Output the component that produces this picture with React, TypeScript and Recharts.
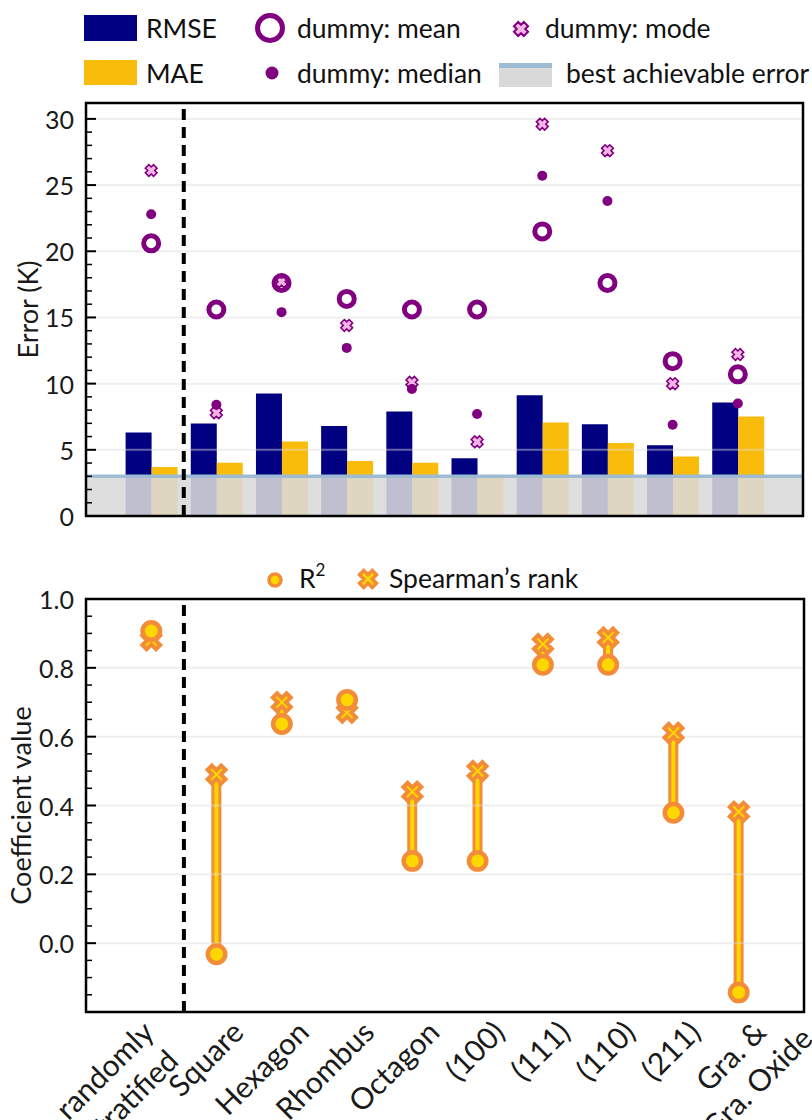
import React from "react";
import {
  ComposedChart,
  Bar,
  Scatter,
  XAxis,
  YAxis,
  ReferenceLine,
  ReferenceArea,
} from "recharts";

const categories = [
  "randomly\nstratified",
  "Square",
  "Hexagon",
  "Rhombus",
  "Octagon",
  "(100)",
  "(111)",
  "(110)",
  "(211)",
  "Gra. &\nGra. Oxide",
];

// top panel, errors in K
const rmse = [6.3, 6.98, 9.25, 6.8, 7.9, 4.36, 9.13, 6.93, 5.34, 8.57];
const mae = [3.7, 4.03, 5.62, 4.16, 4.03, 2.95, 7.06, 5.52, 4.5, 7.51];
const dummyMean = [20.6, 15.6, 17.6, 16.4, 15.6, 15.6, 21.5, 17.6, 11.7, 10.7];
const dummyMedian = [22.8, 8.4, 15.4, 12.7, 9.6, 7.7, 25.7, 23.8, 6.9, 8.5];
const dummyMode = [26.1, 7.8, 17.7, 14.4, 10.1, 5.6, 29.6, 27.6, 10.0, 12.2];
const bestAchievableError = 3.0;

// bottom panel, coefficients
const r2 = [0.907, -0.032, 0.637, 0.707, 0.239, 0.239, 0.809, 0.809, 0.379, -0.143];
const spearman = [0.88, 0.49, 0.7, 0.67, 0.44, 0.5, 0.869, 0.888, 0.611, 0.382];

const errorTicks = [
  0, 1, 2, 3, 4, 5, 6, 7, 8, 9, 10, 11, 12, 13, 14, 15, 16, 17, 18, 19, 20,
  21, 22, 23, 24, 25, 26, 27, 28, 29, 30,
];
const errorLabels = [0, 5, 10, 15, 20, 25, 30];
const coefTicks = [
  -0.15, -0.1, -0.05, 0, 0.05, 0.1, 0.15, 0.2, 0.25, 0.3, 0.35, 0.4, 0.45,
  0.5, 0.55, 0.6, 0.65, 0.7, 0.75, 0.8, 0.85, 0.9, 0.95, 1.0,
];
const coefLabels = [0, 0.2, 0.4, 0.6, 0.8, 1.0];
const splitAt = 0.5; // between "randomly stratified" and the rest

const errorRows = categories.map((name, i) => ({
  name,
  idx: i,
  rmse: rmse[i],
  mae: mae[i],
  mean: dummyMean[i],
  median: dummyMedian[i],
  mode: dummyMode[i],
}));

const coefRows = categories.map((name, i) => ({
  name,
  idx: i,
  r2: r2[i],
  spearman: spearman[i],
  span: [Math.min(r2[i], spearman[i]), Math.max(r2[i], spearman[i])],
}));

const FONT = "Lato, 'Open Sans', sans-serif";
const NAVY = "#000080";
const GOLD = "#f9bc0a";
const PURPLE = "#800080";
const PINK = "#f3b5e3";
const ORANGE = "#f28c38";
const YELLOW = "#ffd700";
const GRID = "#dcdcdc";
const TICK_FS = 25;
const LABEL_FS = 27;
const LEGEND_FS = 26.5;
const XLAB_FS = 30;
const PAD = 32.6;
const TICK_GAP = 12;

const crossPath = (cx: number, cy: number, a: number, w: number) => {
  const pts = [
    [w, a], [w, w], [a, w], [a, -w], [w, -w], [w, -a],
    [-w, -a], [-w, -w], [-a, -w], [-a, w], [-w, w], [-w, a],
  ];
  const c = Math.SQRT1_2;
  return (
    pts
      .map(([px, py], i) => `${i ? "L" : "M"}${cx + (px - py) * c},${cy + (px + py) * c}`)
      .join("") + "Z"
  );
};

const MeanRing = (p: any) => (
  <circle cx={p.cx} cy={p.cy} r={7.5} fill="none" stroke={PURPLE} strokeWidth={5} />
);
const MedianDot = (p: any) => <circle cx={p.cx} cy={p.cy} r={5} fill={PURPLE} />;
const ModeCross = (p: any) => (
  <path d={crossPath(p.cx, p.cy, 5.8, 2.5)} fill={PINK} stroke={PURPLE} strokeWidth={1.6} />
);
const R2Dot = (p: any) => (
  <circle cx={p.cx} cy={p.cy} r={8.7} fill={YELLOW} stroke={ORANGE} strokeWidth={4.5} />
);
const SpearmanCross = (p: any) => (
  <path d={crossPath(p.cx, p.cy, 9.7, 3)} fill={YELLOW} stroke={ORANGE} strokeWidth={4} />
);

function makeYTick(labels: number[], fmt: (v: number) => string) {
  return (props: any) => {
    const { x, y, payload } = props;
    const v = payload.value;
    const major = labels.includes(v);
    const ax = x + TICK_GAP;
    return (
      <g>
        <line
          x1={ax}
          x2={ax + (major ? 10 : 6)}
          y1={y}
          y2={y}
          stroke="#000"
          strokeWidth={major ? 2 : 1.5}
        />
        {major && (
          <text
            x={x}
            y={y}
            textAnchor="end"
            dominantBaseline="central"
            fontSize={TICK_FS}
            fontFamily={FONT}
            fill="#1a1a1a"
          >
            {fmt(v)}
          </text>
        )}
      </g>
    );
  };
}

let ctx: CanvasRenderingContext2D | null = null;
function textWidth(s: string, size: number) {
  if (!ctx) ctx = document.createElement("canvas").getContext("2d");
  if (!ctx) return s.length * size * 0.5;
  ctx.font = `${size}px Lato`;
  return ctx.measureText(s).width;
}

// 45 degree labels: lines centred on each other, the shorter line ends a bit
// right of the tick, and the highest point of the block sits just below the axis
const CategoryTick = (props: any) => {
  const { x, y, payload } = props;
  const lines = String(payload.value).split("\n");
  const lh = XLAB_FS * 1.25;
  const asc = XLAB_FS * 0.72;
  const c = Math.SQRT1_2;
  const widths = lines.map((l) => textWidth(l, XLAB_FS));
  const k = widths.indexOf(Math.min(...widths));
  const tx = x + 29 - c * (widths[k] / 2 + k * lh);
  const top = Math.min(...widths.map((w, i) => c * (i * lh - asc - w / 2)));
  const ty = y + 2 - top;
  return (
    <g transform={`translate(${tx},${ty}) rotate(-45)`}>
      {lines.map((l, i) => (
        <text
          key={i}
          x={0}
          y={i * lh}
          textAnchor="middle"
          fontSize={XLAB_FS}
          fontFamily={FONT}
          fill="#1a1a1a"
        >
          {l}
        </text>
      ))}
    </g>
  );
};

const axisLabel = (value: string, offset: number) => ({
  value,
  angle: -90,
  position: "insideLeft" as const,
  offset,
  style: { textAnchor: "middle", fontSize: LABEL_FS, fontFamily: FONT, fill: "#1a1a1a" },
});

function ErrorChart() {
  return (
    <ComposedChart
      width={812}
      height={530}
      data={errorRows}
      margin={{ top: 103, right: 9, bottom: 14, left: 16 }}
      barGap={0}
    >
      <XAxis dataKey="name" padding={{ left: PAD, right: PAD }} tick={false} axisLine={false} tickLine={false} height={0} />
      <XAxis xAxisId="num" type="number" dataKey="idx" domain={[-1, 10]} hide />
      <YAxis
        type="number"
        domain={[0, 31.2]}
        ticks={errorTicks}
        interval={0}
        width={70}
        tickSize={0}
        tickMargin={TICK_GAP}
        axisLine={false}
        tickLine={false}
        allowDataOverflow
        tick={makeYTick(errorLabels, (v) => String(v))}
        label={axisLabel("Error (K)", 12)}
      />
      <Bar dataKey="rmse" fill={NAVY} barSize={26} isAnimationActive={false} />
      <Bar dataKey="mae" fill={GOLD} barSize={26} isAnimationActive={false} />
      {errorLabels.map((v) => (
        <ReferenceLine key={v} y={v} xAxisId="num" stroke={GRID} strokeOpacity={0.45} strokeWidth={2} />
      ))}
      <ReferenceArea
        xAxisId="num"
        x1={-1}
        x2={10}
        y1={0}
        y2={bestAchievableError}
        fill="#d9d9d9"
        fillOpacity={0.88}
        stroke="none"
        zIndex={350}
      />
      <ReferenceLine xAxisId="num" y={bestAchievableError} stroke="#9dbcd4" strokeWidth={3.5} />
      <ReferenceLine xAxisId="num" x={splitAt} stroke="#000" strokeWidth={4} strokeDasharray="11 7" />
      <Scatter xAxisId="num" dataKey="mode" shape={ModeCross} isAnimationActive={false} />
      <Scatter xAxisId="num" dataKey="median" shape={MedianDot} isAnimationActive={false} />
      <Scatter xAxisId="num" dataKey="mean" shape={MeanRing} isAnimationActive={false} />
      <ReferenceArea
        xAxisId="num"
        x1={-1}
        x2={10}
        y1={0}
        y2={31.2}
        fill="none"
        stroke="#000"
        strokeWidth={2.5}
        zIndex={700}
      />
    </ComposedChart>
  );
}

function CoefChart() {
  return (
    <ComposedChart
      width={812}
      height={580}
      data={coefRows}
      margin={{ top: 59, right: 8, bottom: 0, left: 16 }}
    >
      <XAxis
        dataKey="name"
        padding={{ left: PAD, right: PAD }}
        interval={0}
        height={108}
        tickSize={0}
        tickMargin={5}
        axisLine={false}
        tickLine={false}
        tick={CategoryTick}
      />
      <XAxis xAxisId="num" type="number" dataKey="idx" domain={[-1, 10]} hide />
      <YAxis
        type="number"
        domain={[-0.2, 1.0]}
        ticks={coefTicks}
        interval={0}
        width={70}
        tickSize={0}
        tickMargin={TICK_GAP}
        axisLine={false}
        tickLine={false}
        allowDataOverflow
        tick={makeYTick(coefLabels, (v) => v.toFixed(1))}
        label={axisLabel("Coefficient value", 5)}
      />
      <Bar
        dataKey="span"
        fill={YELLOW}
        stroke={ORANGE}
        strokeWidth={3}
        barSize={7}
        isAnimationActive={false}
      />
      {coefLabels.map((v) => (
        <ReferenceLine key={v} y={v} xAxisId="num" stroke={GRID} strokeOpacity={0.45} strokeWidth={2} />
      ))}
      <ReferenceLine xAxisId="num" x={splitAt} stroke="#000" strokeWidth={4} strokeDasharray="11 7" />
      <Scatter xAxisId="num" dataKey="spearman" shape={SpearmanCross} isAnimationActive={false} />
      <Scatter xAxisId="num" dataKey="r2" shape={R2Dot} isAnimationActive={false} />
      <ReferenceArea
        xAxisId="num"
        x1={-1}
        x2={10}
        y1={-0.2}
        y2={1.0}
        fill="none"
        stroke="#000"
        strokeWidth={2.5}
        zIndex={700}
      />
    </ComposedChart>
  );
}

function Legends() {
  const txt = { fontSize: LEGEND_FS, fontFamily: FONT, fill: "#111", dominantBaseline: "central" as const };
  return (
    <svg
      width={812}
      height={1120}
      style={{ position: "absolute", left: 0, top: 0, pointerEvents: "none" }}
    >
      {/* top legend */}
      <rect x={84} y={15} width={53} height={26} fill={NAVY} />
      <text x={146} y={28} {...txt}>RMSE</text>
      <rect x={84} y={60} width={53} height={25} fill={GOLD} />
      <text x={146} y={73} {...txt}>MAE</text>
      <circle cx={270} cy={28} r={12.5} fill="none" stroke={PURPLE} strokeWidth={5} />
      <text x={297} y={28} {...txt}>dummy: mean</text>
      <circle cx={272} cy={73} r={6.5} fill={PURPLE} />
      <text x={297} y={73} {...txt}>dummy: median</text>
      <path d={crossPath(521, 29, 7, 3)} fill={PINK} stroke={PURPLE} strokeWidth={2} />
      <text x={545} y={28} {...txt}>dummy: mode</text>
      <rect x={499} y={63} width={53} height={24} fill="#d9d9d9" />
      <rect x={499} y={63} width={53} height={5} fill="#9dbcd4" />
      <text x={566} y={73} {...txt}>best achievable error</text>
      {/* bottom legend */}
      <circle cx={275} cy={580} r={6} fill={YELLOW} stroke={ORANGE} strokeWidth={3.5} />
      <text x={299} y={578} {...txt}>
        R<tspan dy={-9} fontSize={17}>2</tspan>
      </text>
      <path d={crossPath(368, 579, 9, 3)} fill={YELLOW} stroke={ORANGE} strokeWidth={3.5} />
      <text x={389} y={578} {...txt}>Spearman’s rank</text>
    </svg>
  );
}

export default function App() {
  return (
    <div
      style={{
        position: "absolute",
        left: 0,
        top: 0,
        width: 812,
        height: 1120,
        background: "#fff",
        fontFamily: FONT,
        overflow: "hidden",
      }}
    >
      <div style={{ position: "absolute", left: 0, top: 0 }}>
        <ErrorChart />
      </div>
      <div style={{ position: "absolute", left: 0, top: 540 }}>
        <CoefChart />
      </div>
      <Legends />
    </div>
  );
}
